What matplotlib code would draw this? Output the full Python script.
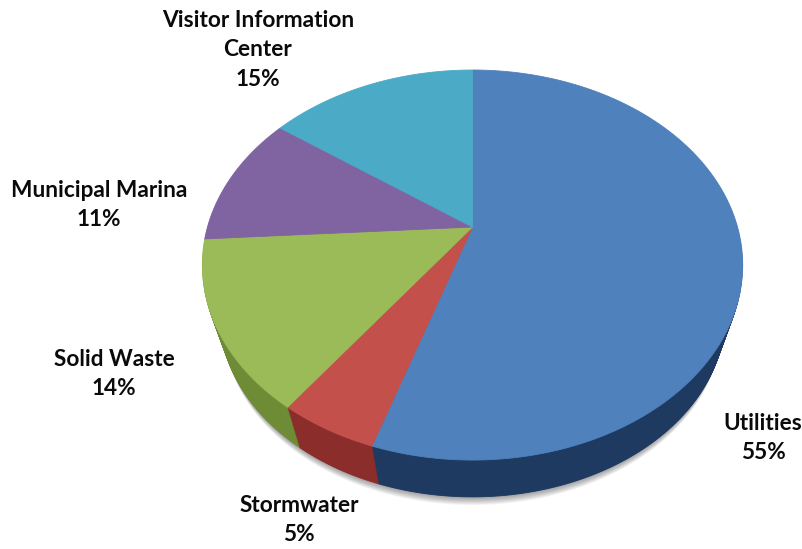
import numpy as np
import matplotlib
matplotlib.use("Agg")
import matplotlib.pyplot as plt
from matplotlib.path import Path
from matplotlib.transforms import Affine2D, Transform

plt.rcParams["font.family"] = ["Lato", "DejaVu Sans"]

departments = ["Utilities", "Stormwater", "Solid Waste", "Municipal Marina", "Visitor Information\nCenter"]
shares = [55, 5, 14, 11, 15]
top_colors = ["#4f81bd", "#c4504c", "#9bbb59", "#8064a2", "#4babc6"]
side_colors = ["#1f3a60", "#8a2d2b", "#6e8c35", "#5a4574", "#2f7a8e"]

# where each label block is centred, in pixels
label_x = [763, 299, 114, 99, 258]
label_y = [438, 520, 374, 205, 50]

WIDTH, HEIGHT = 803, 549
APEX_X, APEX_Y = 472.5, 227
RX, RY = 265, 187.6
TILT = 0.195
DEPTH = 52
SHRINK = 0.065


class TiltedDisc(Transform):
    # projects the flat unit-circle pie onto a tilted disc, far side on top
    input_dims = 2
    output_dims = 2
    is_separable = False
    has_inverse = False

    def __init__(self, scale=1.0, apex_y=APEX_Y):
        super().__init__()
        self.scale_ = scale
        self.apex_y = apex_y

    def transform_non_affine(self, values):
        values = np.asarray(values, dtype=float)
        w = 1 + TILT * values[:, 1]
        x = APEX_X + self.scale_ * RX * values[:, 0] / w
        y = self.apex_y - self.scale_ * RY * values[:, 1] / w
        return np.column_stack([x, y])

    def transform_path_non_affine(self, path):
        # flatten the arcs first, bezier control points do not survive the projection
        polys = path.to_polygons(Affine2D().scale(3000), closed_only=False)
        return Path(self.transform_non_affine(polys[0] / 3000))


fig = plt.figure(figsize=(WIDTH / 100, HEIGHT / 100), dpi=100)
ax = fig.add_axes([0, 0, 1, 1])


def draw_pie(values, colors, t, edge=None, lw=0.6, alpha=None):
    wedges, _ = ax.pie(values, colors=colors, startangle=90, counterclock=False,
                       wedgeprops={"linewidth": lw, "alpha": alpha})
    disc = TiltedDisc(1 - SHRINK * t, APEX_Y + DEPTH * t)
    for wedge, color in zip(wedges, colors):
        wedge.set_transform(disc + ax.transData)
        wedge.set_edgecolor(edge if edge else color)
    return wedges


# soft shadow under the rim
for t in np.linspace(1.22, 1.0, 9):
    draw_pie([sum(shares)], ["#000000"], t, edge="none", lw=0, alpha=0.05)

# rim, stacked from the bottom face up to the top face
for t in np.linspace(1, 0.02, 50):
    draw_pie(shares, side_colors, t)

draw_pie(shares, top_colors, 0)

for name, share, x, y in zip(departments, shares, label_x, label_y):
    ax.text(x, y, f"{name}\n{share}%", ha="center", va="center", fontsize=16.3,
            fontweight="bold", color="#0a0a0a", linespacing=1.52)

ax.set_xlim(0, WIDTH)
ax.set_ylim(HEIGHT, 0)
ax.set_aspect("auto")
ax.axis("off")

fig.savefig("out.png", dpi=100, facecolor="white")
